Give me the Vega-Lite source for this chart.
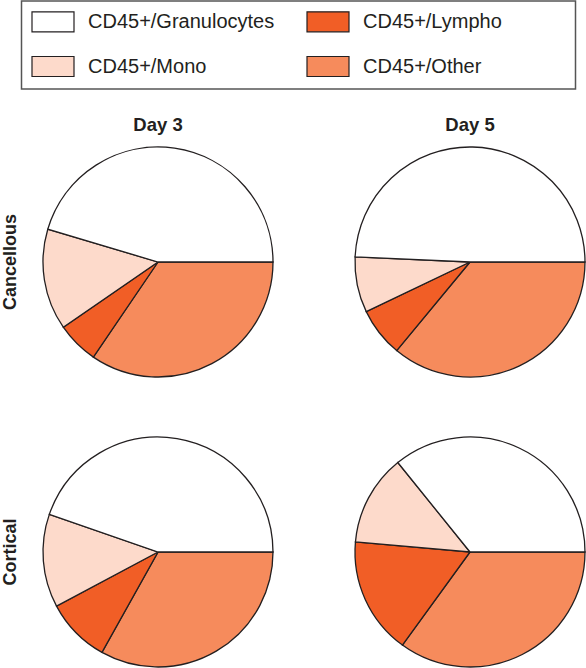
{
  "$schema": "https://vega.github.io/schema/vega-lite/v6.json",
  "padding": {"left": 1, "top": 0, "right": 0, "bottom": 0},
  "background": "white",
  "data": {"values": [
    {"Site": "Cancellous", "Day": "Day 3", "Cell": "CD45+/Other", "k": 1, "Pct": 34.5},
    {"Site": "Cancellous", "Day": "Day 3", "Cell": "CD45+/Lympho", "k": 2, "Pct": 5.9},
    {"Site": "Cancellous", "Day": "Day 3", "Cell": "CD45+/Mono", "k": 3, "Pct": 14.2},
    {"Site": "Cancellous", "Day": "Day 3", "Cell": "CD45+/Granulocytes", "k": 4, "Pct": 45.4},
    {"Site": "Cancellous", "Day": "Day 5", "Cell": "CD45+/Other", "k": 1, "Pct": 36.0},
    {"Site": "Cancellous", "Day": "Day 5", "Cell": "CD45+/Lympho", "k": 2, "Pct": 6.9},
    {"Site": "Cancellous", "Day": "Day 5", "Cell": "CD45+/Mono", "k": 3, "Pct": 7.8},
    {"Site": "Cancellous", "Day": "Day 5", "Cell": "CD45+/Granulocytes", "k": 4, "Pct": 49.3},
    {"Site": "Cortical", "Day": "Day 3", "Cell": "CD45+/Other", "k": 1, "Pct": 33.1},
    {"Site": "Cortical", "Day": "Day 3", "Cell": "CD45+/Lympho", "k": 2, "Pct": 9.1},
    {"Site": "Cortical", "Day": "Day 3", "Cell": "CD45+/Mono", "k": 3, "Pct": 13.1},
    {"Site": "Cortical", "Day": "Day 3", "Cell": "CD45+/Granulocytes", "k": 4, "Pct": 44.7},
    {"Site": "Cortical", "Day": "Day 5", "Cell": "CD45+/Other", "k": 1, "Pct": 35.0},
    {"Site": "Cortical", "Day": "Day 5", "Cell": "CD45+/Lympho", "k": 2, "Pct": 16.4},
    {"Site": "Cortical", "Day": "Day 5", "Cell": "CD45+/Mono", "k": 3, "Pct": 12.8},
    {"Site": "Cortical", "Day": "Day 5", "Cell": "CD45+/Granulocytes", "k": 4, "Pct": 35.8}
  ]},
  "facet": {
    "row": {"field": "Site", "type": "nominal", "sort": ["Cancellous", "Cortical"],
      "header": {"title": null, "labelFont": "Liberation Sans", "labelFontSize": 18, "labelFontWeight": "bold", "labelColor": "#231F20", "labelPadding": 20}},
    "column": {"field": "Day", "type": "nominal", "sort": ["Day 3", "Day 5"],
      "header": {"title": null, "labelFont": "Liberation Sans", "labelFontSize": 18.5, "labelFontWeight": "bold", "labelColor": "#231F20", "labelPadding": 10}}
  },
  "spacing": {"row": 54, "column": 76},
  "spec": {
    "width": 230,
    "height": 230,
    "mark": {"type": "arc", "stroke": "#231F20", "strokeWidth": 1.3},
    "encoding": {
      "theta": {"field": "Pct", "type": "quantitative", "stack": true,
        "scale": {"range": [1.5708, 7.854]}},
      "order": {"field": "k", "type": "quantitative"},
      "color": {"field": "Cell", "type": "nominal",
        "scale": {"domain": ["CD45+/Granulocytes", "CD45+/Lympho", "CD45+/Mono", "CD45+/Other"],
                  "range": ["#FFFFFF", "#F15E26", "#FDDACB", "#F68B5C"]},
        "legend": {
          "orient": "none", "legendX": -21.5, "legendY": -146,
          "columns": 2, "direction": "horizontal",
          "title": " ", "titleOrient": "right", "titlePadding": 63.5, "titleFontSize": 20,
          "symbolType": "M-1,-1H3.2V1H-1Z", "symbolSize": 400,
          "symbolStrokeColor": "#231F20", "symbolStrokeWidth": 1.2, "symbolOpacity": 1,
          "labelFont": "Liberation Sans", "labelFontSize": 20, "labelColor": "#231F20",
          "labelOffset": 35, "labelLimit": 300,
          "columnPadding": 29, "rowPadding": 19,
          "padding": 9.5, "strokeColor": "#555555"
        }
      }
    }
  },
  "config": {"view": {"stroke": null}, "font": "Liberation Sans", "legend": {"strokeWidth": 1.5}}
}
